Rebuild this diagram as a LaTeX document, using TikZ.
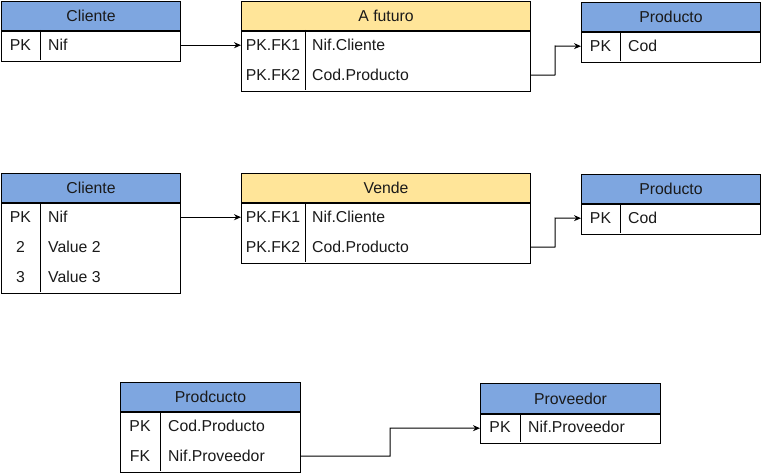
\documentclass[tikz,border=0pt]{standalone}
\usepackage{fontspec}
\setmainfont{Liberation Sans}
\usetikzlibrary{arrows.meta}
\definecolor{hblue}{HTML}{7EA6E0}
\definecolor{hyellow}{HTML}{FFE599}
\definecolor{txt}{HTML}{1A1A1A}
\begin{document}
\begin{tikzpicture}[x=1pt,y=-1pt,
  every node/.style={font=\fontsize{15.8}{18}\selectfont, text=txt},
  hdr/.style={draw, line width=1pt, inner sep=0pt, anchor=north west},
  body/.style={draw, line width=1pt, fill=white, inner sep=0pt, anchor=north west},
  rowbox/.style={inner sep=0pt, minimum height=30pt, anchor=north west},
  keyt/.style={inner sep=0pt, anchor=center},
  valt/.style={inner sep=0pt, anchor=west},
  conn/.style={line width=1pt, -{Stealth[length=7pt,width=6pt]}}]
\useasboundingbox (0,0) rectangle (762,473);

% ---------- Table 1: Cliente
\node[hdr, fill=hblue, minimum width=179pt, minimum height=29pt] (c1h) at (1,1) {Cliente};
\node[body, minimum width=179pt, minimum height=30pt] (c1b) at (c1h.south west) {};
\draw[line width=1pt] (40,30) -- (40,60);
\node[rowbox, minimum width=179pt] (c1r1) at (1,30) {};
\node[keyt] at (20.5,45) {PK};
\node[valt] at (48,45) {Nif};

% ---------- A futuro
\node[hdr, fill=hyellow, minimum width=289pt, minimum height=29pt] (afh) at (241,1) {A futuro};
\node[body, minimum width=289pt, minimum height=60pt] (afb) at (afh.south west) {};
\draw[line width=1pt] (305,30) -- (305,90);
\node[rowbox, minimum width=289pt] (afr1) at (241,30) {};
\node[rowbox, minimum width=289pt] (afr2) at (241,60) {};
\node[keyt] at (273,45) {PK.FK1};
\node[valt] at (312,45) {Nif.Cliente};
\node[keyt] at (273,75) {PK.FK2};
\node[valt] at (312,75) {Cod.Producto};

% ---------- Producto 1
\node[hdr, fill=hblue, minimum width=179pt, minimum height=29pt] (p1h) at (581,2) {Producto};
\node[body, minimum width=179pt, minimum height=30pt] (p1b) at (p1h.south west) {};
\draw[line width=1pt] (620,31) -- (620,61);
\node[rowbox, minimum width=179pt] (p1r1) at (581,31) {};
\node[keyt] at (600.5,46) {PK};
\node[valt] at (628,46) {Cod};

\draw[conn] (c1r1.east) -- (afr1.west);
\draw[conn] (afr2.east) -- (555,75) -- (555,46) -- (p1r1.west);

% ---------- Cliente 2
\node[hdr, fill=hblue, minimum width=179pt, minimum height=29pt] (c2h) at (1,173) {Cliente};
\node[body, minimum width=179pt, minimum height=90pt] (c2b) at (c2h.south west) {};
\draw[line width=1pt] (40,202) -- (40,292);
\node[rowbox, minimum width=179pt] (c2r1) at (1,202) {};
\node[keyt] at (20.5,217) {PK};
\node[valt] at (48,217) {Nif};
\node[keyt] at (20.5,247) {2};
\node[valt] at (48,247) {Value 2};
\node[keyt] at (20.5,277) {3};
\node[valt] at (48,277) {Value 3};

% ---------- Vende
\node[hdr, fill=hyellow, minimum width=289pt, minimum height=29pt] (vh) at (241,173) {Vende};
\node[body, minimum width=289pt, minimum height=60pt] (vb) at (vh.south west) {};
\draw[line width=1pt] (305,202) -- (305,262);
\node[rowbox, minimum width=289pt] (vr1) at (241,202) {};
\node[rowbox, minimum width=289pt] (vr2) at (241,232) {};
\node[keyt] at (273,217) {PK.FK1};
\node[valt] at (312,217) {Nif.Cliente};
\node[keyt] at (273,247) {PK.FK2};
\node[valt] at (312,247) {Cod.Producto};

% ---------- Producto 2
\node[hdr, fill=hblue, minimum width=179pt, minimum height=29pt] (p2h) at (581,174) {Producto};
\node[body, minimum width=179pt, minimum height=30pt] (p2b) at (p2h.south west) {};
\draw[line width=1pt] (620,203) -- (620,233);
\node[rowbox, minimum width=179pt] (p2r1) at (581,203) {};
\node[keyt] at (600.5,218) {PK};
\node[valt] at (628,218) {Cod};

\draw[conn] (c2r1.east) -- (vr1.west);
\draw[conn] (vr2.east) -- (555,247) -- (555,218) -- (p2r1.west);

% ---------- Prodcucto
\node[hdr, fill=hblue, minimum width=180pt, minimum height=29pt] (pch) at (120,382) {Prodcucto};
\node[body, minimum width=180pt, minimum height=60pt] (pcb) at (pch.south west) {};
\draw[line width=1pt] (160,411) -- (160,471);
\node[rowbox, minimum width=180pt] (pcr1) at (120,411) {};
\node[rowbox, minimum width=180pt] (pcr2) at (120,441) {};
\node[keyt] at (140,426) {PK};
\node[valt] at (168,426) {Cod.Producto};
\node[keyt] at (140,456) {FK};
\node[valt] at (168,456) {Nif.Proveedor};

% ---------- Proveedor
\node[hdr, fill=hblue, minimum width=180pt, minimum height=30pt] (prh) at (480,383) {Proveedor};
\node[body, minimum width=180pt, minimum height=29pt] (prb) at (prh.south west) {};
\draw[line width=1pt] (520,413) -- (520,442);
\node[rowbox, minimum width=180pt] (prr1) at (480,413) {};
\node[keyt] at (500,427) {PK};
\node[valt] at (528,427) {Nif.Proveedor};

\draw[conn] (pcr2.east) -- (390,456) -- (390,428) -- (prr1.west);
\end{tikzpicture}
\end{document}
